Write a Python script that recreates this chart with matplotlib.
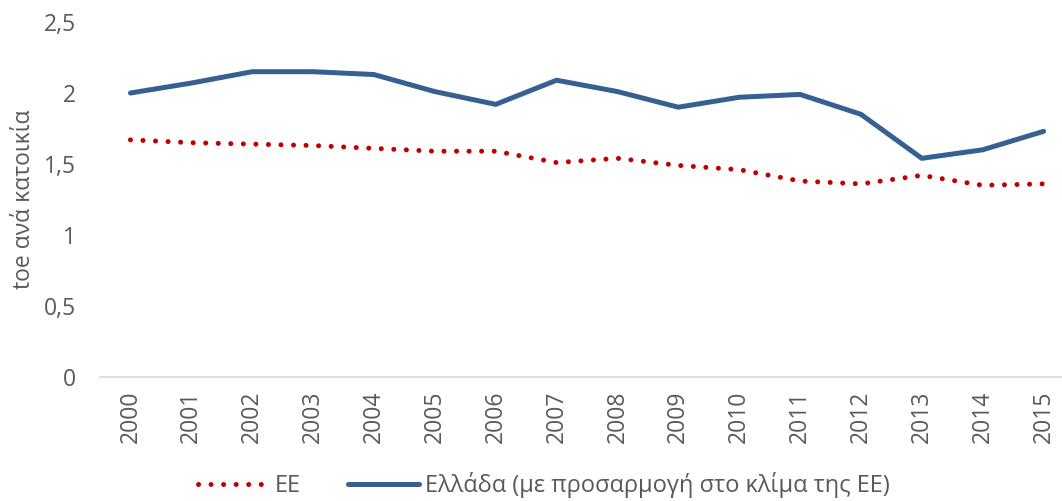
import matplotlib.pyplot as plt
from matplotlib.ticker import FuncFormatter

plt.rcParams['font.family'] = ['Open Sans', 'DejaVu Sans']

years = [str(y) for y in range(2000, 2016)]
ee = [1.67, 1.65, 1.64, 1.63, 1.61, 1.59, 1.59, 1.51, 1.54, 1.49, 1.46, 1.38, 1.36, 1.42, 1.35, 1.36]
greece = [2.00, 2.07, 2.15, 2.15, 2.13, 2.01, 1.92, 2.09, 2.01, 1.90, 1.97, 1.99, 1.85, 1.54, 1.60, 1.73]
yticks = [0, 0.5, 1, 1.5, 2, 2.5]

grey = '#595959'
fs = 16.5
fig = plt.figure(figsize=(10.62, 5.01), dpi=100)
ax = fig.add_axes([100 / 1062, 124 / 501, 974 / 1062, 355 / 501])

x = range(len(years))
ax.plot(x, ee, color='#C00000', lw=3.6, linestyle=(0, (0.01, 2.5)),
        dash_capstyle='round', label='EE')
ax.plot(x, greece, color='#376092', lw=3.6, solid_capstyle='round',
        label='Ελλάδα (με προσαρμογή στο κλίμα της ΕΕ)')

ax.set_xlim(-0.5, len(years) - 0.5)
ax.set_ylim(0, 2.5)
ax.set_yticks(yticks)
ax.yaxis.set_major_formatter(FuncFormatter(lambda v, p: ('%g' % v).replace('.', ',')))
ax.set_xticks(list(x))
ax.set_xticklabels(years, rotation=90)

for s in ['top', 'right', 'left']:
    ax.spines[s].set_visible(False)
ax.spines['bottom'].set_color('#D9D9D9')
ax.spines['bottom'].set_linewidth(1.2)
ax.tick_params(axis='both', length=0, colors=grey, labelsize=fs)
ax.tick_params(axis='y', pad=17)
ax.tick_params(axis='x', pad=10)

ax.set_ylabel('toe ανά κατοικία', color=grey, fontsize=fs)
ax.yaxis.set_label_coords(-64 / 974, 0.5)

leg = fig.legend(loc='center', bbox_to_anchor=(0.512, 16 / 501), ncol=2, frameon=False,
                 fontsize=17, handlelength=3.0, columnspacing=2.0, handletextpad=0.25)
for t in leg.get_texts():
    t.set_color(grey)

fig.savefig('out.png', dpi=100)
